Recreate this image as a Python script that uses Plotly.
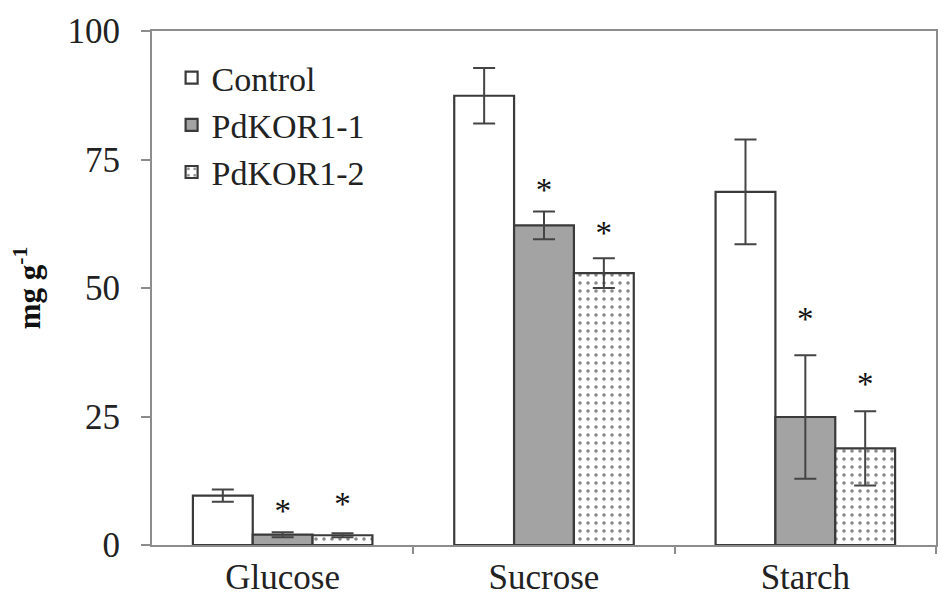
import plotly.graph_objects as go

categories = ["Glucose", "Sucrose", "Starch"]
series_names = ["Control", "PdKOR1-1", "PdKOR1-2"]
control = [9.6, 87.4, 68.7]
control_err = [1.2, 5.4, 10.2]
kor1 = [2.0, 62.2, 24.9]
kor1_err = [0.5, 2.7, 12.0]
kor2 = [1.9, 52.9, 18.8]
kor2_err = [0.4, 2.9, 7.2]
# y position of significance asterisks (None = no mark)
sig_y = [
    [None, None, None],
    [6.0, 68.5, 43.5],
    [7.4, 60.2, 30.7],
]
y_ticks = [0, 25, 50, 75, 100]

values = [control, kor1, kor2]
errors = [control_err, kor1_err, kor2_err]

bar_w = 0.229
FONT = "Times New Roman, Liberation Serif, DejaVu Serif, serif"
edge = "#3a3a3a"
axis_col = "#8c8c8c"

styles = [
    dict(color="white", pattern=None),
    dict(color="#a3a3a3", pattern=None),
    dict(color="white", pattern=dict(shape=".", fgcolor="#111111", bgcolor="white",
                                     size=8, solidity=0.16)),
]

fig = go.Figure()
idx = list(range(len(categories)))
for j, name in enumerate(series_names):
    xs = [i + (j - 1) * bar_w for i in idx]
    marker = dict(color=styles[j]["color"], line=dict(color=edge, width=2.2))
    if styles[j]["pattern"]:
        marker["pattern"] = styles[j]["pattern"]
    fig.add_trace(go.Bar(
        x=xs, y=values[j], width=bar_w, name=name, marker=marker,
        error_y=dict(type="data", array=errors[j], visible=True,
                     color="#444444", thickness=2, width=11),
    ))
    sx = [x for x, s in zip(xs, sig_y[j]) if s is not None]
    sy = [s for s in sig_y[j] if s is not None]
    if sx:
        fig.add_trace(go.Scatter(
            x=sx, y=sy, mode="text", text=["*"] * len(sx),
            textposition="middle center",
            textfont=dict(family=FONT, size=33, color="#111111"),
            showlegend=False, hoverinfo="skip",
        ))

fig.update_layout(
    width=934, height=593,
    margin=dict(l=144, r=4, t=20, b=54),
    plot_bgcolor="white", paper_bgcolor="white",
    barmode="overlay",
    font=dict(family=FONT, size=34, color="#222222"),
    showlegend=True,
    legend=dict(x=0.025, y=0.965, xanchor="left", yanchor="top",
                bgcolor="rgba(0,0,0,0)", font=dict(family=FONT, size=34, color="#222222"),
                itemwidth=30, tracegroupgap=0),
)
fig.update_xaxes(
    range=[-0.5, 2.5],
    tickmode="array", tickvals=idx, ticktext=categories,
    ticks="", showgrid=False, zeroline=False,
    showline=True, linecolor=axis_col, linewidth=2, mirror=True,
    tickfont=dict(family=FONT, size=35, color="#222222"),
    minor=dict(tickmode="array", tickvals=[i + 0.5 for i in idx[:-1]] + [2.5],
               ticks="outside", ticklen=7, tickcolor=axis_col, tickwidth=1.5, showgrid=False),
)
fig.update_yaxes(
    range=[0, 100], tickmode="array", tickvals=y_ticks,
    ticks="outside", ticklen=9, tickcolor=axis_col, tickwidth=1.5,
    ticklabelstandoff=14,
    showgrid=False, zeroline=False,
    showline=True, linecolor=axis_col, linewidth=2, mirror=True,
    tickfont=dict(family=FONT, size=35, color="#222222"),
    title=dict(text="<b>mg g<sup>-1</sup></b>", standoff=18,
               font=dict(family=FONT, size=31, color="#111111")),
)
fig.write_html("out.html")
